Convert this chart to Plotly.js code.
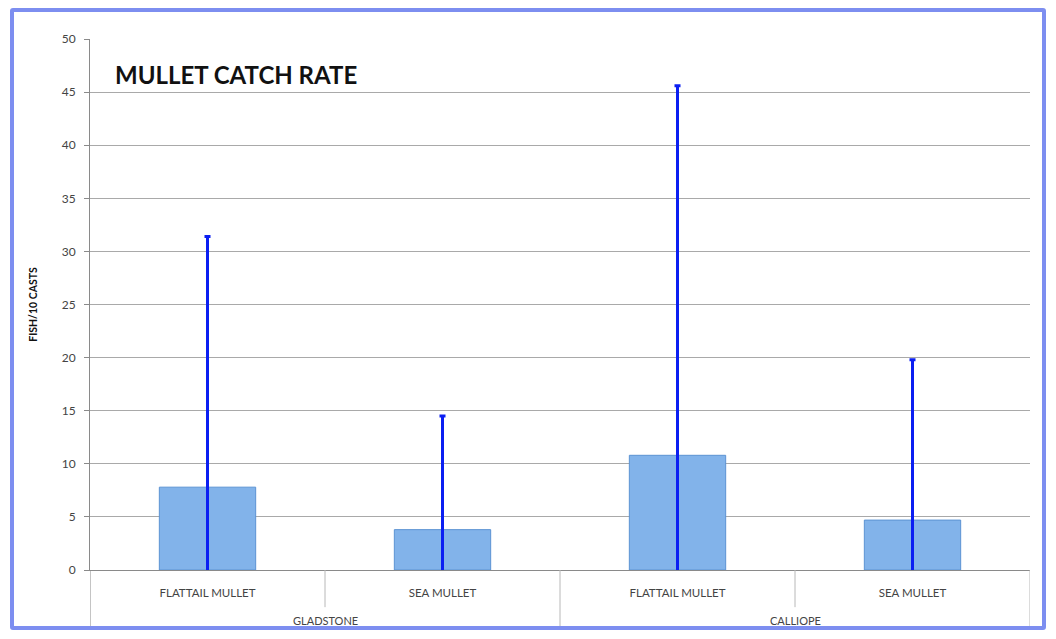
<!DOCTYPE html>
<html>
<head>
<meta charset="utf-8">
<script src="https://cdn.plot.ly/plotly-3.0.1.min.js"></script>
<style>
  html, body { margin: 0; padding: 0; background: #ffffff; }
  #frame { position: absolute; left: 10px; top: 8px; width: 1036px; height: 622px; border: 4px solid #7d8ef0; border-radius: 3px; box-sizing: border-box; }
  #chart { position: absolute; left: 0; top: 0; width: 1056px; height: 639px; }
</style>
</head>
<body>
<div id="chart"></div>
<div id="frame"></div>
<script>
const groups = ['GLADSTONE', 'GLADSTONE', 'CALLIOPE', 'CALLIOPE'];
const species = ['FLATTAIL MULLET', 'SEA MULLET', 'FLATTAIL MULLET', 'SEA MULLET'];
const catchRate = [7.8, 3.8, 10.8, 4.7];
const errorValues = [23.6, 10.7, 34.8, 15.1];
const yTicks = [0, 5, 10, 15, 20, 25, 30, 35, 40, 45, 50];

const FONT = 'Lato, "Open Sans", sans-serif';
const idx = species.map((_, i) => i);

const trace = {
  type: 'bar',
  x: idx,
  y: catchRate,
  width: 0.41,
  marker: { color: '#82b3ea', line: { color: '#5c93d3', width: 1 } },
  error_y: { type: 'data', array: errorValues, symmetric: true, color: '#0b1ff2', thickness: 3, width: 3 },
  hoverinfo: 'y'
};

// dividers and group labels, derived from the category arrays
const shapes = [];
const annotations = [];
const divColor = '#b8b8b8';
const n = species.length;
let start = 0;
for (let i = 0; i <= n; i++) {
  if (i === n || (i > 0 && groups[i] !== groups[i - 1])) {
    // group boundary (full height)
    shapes.push({ type: 'line', xref: 'x', yref: 'paper', x0: i - 0.5, x1: i - 0.5, y0: 0, y1: -0.113, line: { color: divColor, width: 1 } });
    annotations.push({
      xref: 'x', yref: 'paper', x: (start + i - 1) / 2, y: -0.096,
      text: groups[start], showarrow: false, yanchor: 'middle',
      font: { family: FONT, size: 11, color: '#444444' }
    });
    start = i;
  } else if (i > 0) {
    shapes.push({ type: 'line', xref: 'x', yref: 'paper', x0: i - 0.5, x1: i - 0.5, y0: 0, y1: -0.07, line: { color: divColor, width: 1 } });
  }
}
// left axis extension
shapes.push({ type: 'line', xref: 'x', yref: 'paper', x0: -0.5, x1: -0.5, y0: 0, y1: -0.113, line: { color: '#8a8a8a', width: 1 } });

const layout = {
  width: 1056, height: 639,
  margin: { l: 90, r: 26, t: 39, b: 69 },
  paper_bgcolor: '#ffffff',
  plot_bgcolor: '#ffffff',
  showlegend: false,
  title: {
    text: '<b>MULLET CATCH RATE</b>',
    font: { family: FONT, size: 24, color: '#111111' },
    x: 115 / 1056, xanchor: 'left', xref: 'container',
    y: 1 - 76 / 639, yanchor: 'middle', yref: 'container'
  },
  xaxis: {
    range: [-0.5, n - 0.5],
    tickvals: idx,
    ticktext: species,
    showgrid: false,
    showline: true, linecolor: '#8a8a8a', linewidth: 1,
    ticks: '',
    ticklabelstandoff: 12,
    tickfont: { family: FONT, size: 11.5, color: '#444444' },
    zeroline: false,
    fixedrange: true
  },
  yaxis: {
    range: [0, 50],
    tickvals: yTicks,
    ticktext: yTicks.map(String),
    showgrid: true, gridcolor: '#a9a9a9', gridwidth: 1,
    showline: true, linecolor: '#8a8a8a', linewidth: 1,
    ticks: 'outside', ticklen: 5, tickcolor: '#8a8a8a',
    ticklabelstandoff: 6,
    tickfont: { family: FONT, size: 12, color: '#444444' },
    zeroline: false,
    title: {
      text: '<b>FISH/10 CASTS</b>',
      font: { family: FONT, size: 10.5, color: '#111111' },
      standoff: 22
    }
  },
  shapes: shapes,
  annotations: annotations
};

Plotly.newPlot('chart', [trace], layout, { displayModeBar: false, staticPlot: true });
</script>
</body>
</html>
